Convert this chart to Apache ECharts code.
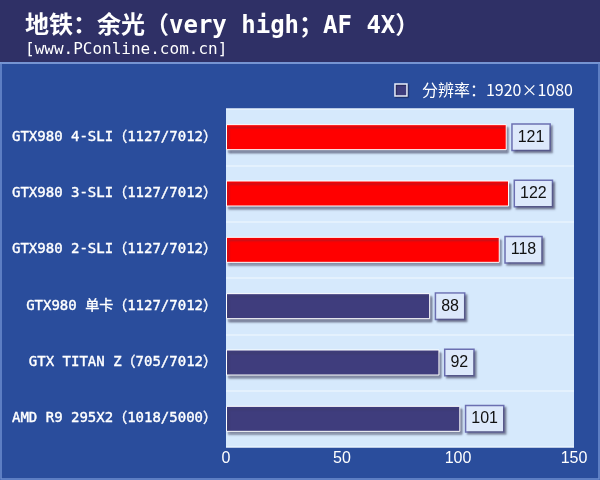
<!DOCTYPE html>
<html>
<head>
<meta charset="utf-8">
<script src="https://cdn.jsdelivr.net/npm/echarts@6/dist/echarts.min.js"></script>
<style>
  html, body { margin: 0; padding: 0; background: #2a4d9c; }
  #chart { width: 600px; height: 480px; }
</style>
</head>
<body>
<div id="chart"></div>
<script>
// cards, top to bottom
const cards = [
  'GTX980 4-SLI（1127/7012）',
  'GTX980 3-SLI（1127/7012）',
  'GTX980 2-SLI（1127/7012）',
  'GTX980 单卡（1127/7012）',
  'GTX TITAN Z（705/7012）',
  'AMD R9 295X2（1018/5000）'
];
const fps = [121, 122, 118, 88, 92, 101];
const barColors = ['#ff0000', '#ff0000', '#ff0000', '#3f3d7d', '#3f3d7d', '#3f3d7d'];
const legendName = '分辨率：1920×1080';

const MONO = '"DejaVu Sans Mono", "Noto Sans CJK SC", monospace';
const SANS = '"Liberation Sans", "Noto Sans CJK SC", sans-serif';
const CJK = '"Noto Sans CJK SC", sans-serif';

const chart = echarts.init(document.getElementById('chart'));

chart.setOption({
  backgroundColor: '#2a4d9c',
  animation: false,
  graphic: [
    { type: 'rect', shape: { x: 0, y: 0, width: 600, height: 62 }, style: { fill: '#2f3066' }, z: -1 },
    { type: 'rect', shape: { x: 0, y: 62, width: 600, height: 2 }, style: { fill: '#8fa6d8' }, z: -1 },
    { type: 'rect', shape: { x: 1, y: 63, width: 598, height: 416 }, style: { fill: 'none', stroke: '#6f8fd0', lineWidth: 1.5 }, z: -1 }
  ],
  title: {
    text: '地铁：余光（very high；AF 4X）',
    subtext: '[www.PConline.com.cn]',
    left: 20,
    top: 8,
    itemGap: 0,
    textStyle: { color: '#ffffff', fontSize: 24, fontWeight: 'bold', fontFamily: MONO, lineHeight: 28 },
    subtextStyle: { color: '#ffffff', fontSize: 16, fontFamily: MONO, lineHeight: 18 }
  },
  legend: {
    data: [legendName],
    right: 22,
    top: 77,
    icon: 'rect',
    itemWidth: 12,
    itemHeight: 12,
    itemStyle: {
      color: '#3f3d7d', borderColor: '#e8eefb', borderWidth: 1.5,
      shadowColor: 'rgba(20,20,50,0.6)', shadowOffsetX: 1, shadowOffsetY: 1, shadowBlur: 1
    },
    textStyle: { color: '#ffffff', fontSize: 16, fontFamily: CJK, padding: [0, 0, 0, 10] }
  },
  grid: {
    left: 226,
    right: 26,
    top: 109,
    bottom: 33,
    show: true,
    backgroundColor: '#d6e9fc',
    borderWidth: 0,
    containLabel: false
  },
  xAxis: {
    type: 'value',
    min: 0,
    max: 150,
    interval: 50,
    axisLine: { show: false },
    axisTick: { show: false },
    splitLine: { show: false },
    axisLabel: { color: '#ffffff', fontSize: 16, fontFamily: SANS, margin: 4 }
  },
  yAxis: {
    type: 'category',
    data: cards,
    inverse: true,
    axisLine: { show: false },
    axisTick: { show: false },
    splitLine: { show: true, lineStyle: { color: '#e8f3fe', width: 1.5 } },
    axisLabel: {
      color: '#ffffff', fontSize: 14, fontFamily: MONO, margin: 9,
      textBorderColor: '#ffffff', textBorderWidth: 0.4
    }
  },
  series: [{
    name: legendName,
    type: 'bar',
    barWidth: 26,
    data: fps.map((v, i) => ({ value: v, itemStyle: { color: barColors[i] } })),
    itemStyle: {
      borderColor: '#ffffff',
      borderWidth: 1,
      shadowColor: 'rgba(60,60,90,0.55)',
      shadowOffsetX: 2,
      shadowOffsetY: 3,
      shadowBlur: 2
    },
    label: {
      show: true,
      position: 'right',
      distance: 6,
      color: '#111111',
      fontSize: 16,
      fontFamily: SANS,
      backgroundColor: '#dde9fb',
      borderColor: '#6c70b2',
      borderWidth: 1.5,
      padding: [5, 5, 4, 5],
      shadowColor: 'rgba(60,60,90,0.5)',
      shadowOffsetX: 2,
      shadowOffsetY: 2,
      shadowBlur: 2
    }
  }]
});
</script>
</body>
</html>
